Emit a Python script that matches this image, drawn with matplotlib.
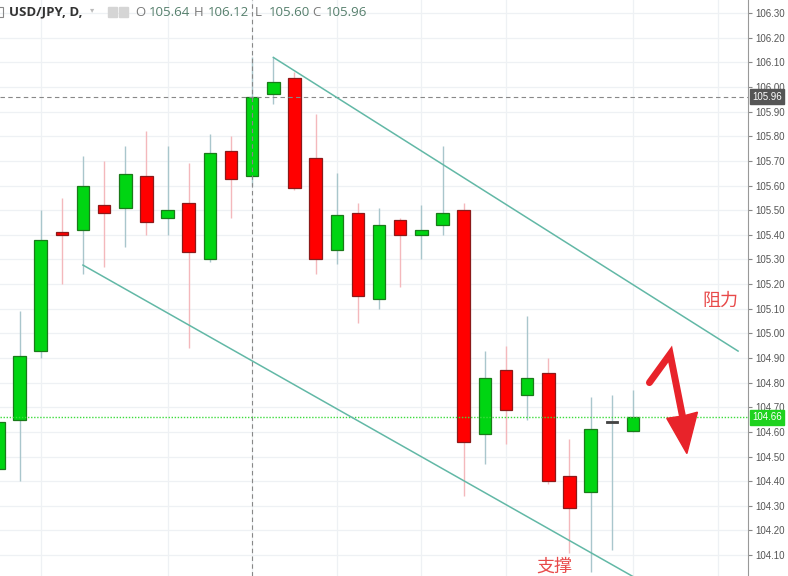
import numpy as np
import matplotlib.pyplot as plt
from matplotlib.patches import Polygon, Rectangle

plt.rcParams['font.family'] = ['Liberation Sans', 'DejaVu Sans']

# daily USD/JPY candles, index 0 = left edge of the picture
opens = [104.45, 104.65, 104.93, 105.41, 105.42, 105.52, 105.51, 105.64, 105.47, 105.53,
         105.30, 105.74, 105.64, 105.97, 106.035, 105.71, 105.34, 105.49, 105.14, 105.46,
         105.40, 105.44, 105.50, 104.59, 104.85, 104.75, 104.84, 104.42, 104.355, 104.64,
         104.605]
highs = [104.72, 105.09, 105.50, 105.55, 105.72, 105.70, 105.76, 105.82, 105.76, 105.69,
         105.81, 105.80, 106.12, 106.12, 106.06, 105.89, 105.65, 105.53, 105.51, 105.47,
         105.52, 105.76, 105.53, 104.93, 104.95, 105.07, 104.90, 104.57, 104.74, 104.75,
         104.77]
lows = [104.40, 104.40, 104.90, 105.20, 105.24, 105.27, 105.35, 105.40, 105.40, 104.94,
        105.29, 105.47, 105.60, 105.93, 105.58, 105.24, 105.28, 105.04, 105.10, 105.19,
        105.30, 105.40, 104.34, 104.47, 104.55, 104.65, 104.39, 104.11, 104.03, 104.12,
        104.60]
closes = [104.64, 104.91, 105.38, 105.40, 105.60, 105.49, 105.645, 105.45, 105.50, 105.33,
          105.73, 105.625, 105.96, 106.02, 105.59, 105.30, 105.48, 105.15, 105.44, 105.40,
          105.42, 105.49, 104.56, 104.82, 104.69, 104.82, 104.40, 104.29, 104.61, 104.64,
          104.66]

price_ticks = np.round(np.arange(104.10, 106.31, 0.10), 2)
vgrid_days = [2, 8, 12, 16, 20, 24, 30, 34]

cross_day = 12
cross_price = 105.96
last_price = 104.66

# drawn channel lines (day, price)
upper_line = [(13.0, 106.12), (34.97, 104.928)]
lower_line = [(4.0, 105.277), (31.5, 103.94)]

# hand drawn arrow (day, price)
arrow_path = [(30.78, 104.80), (31.76, 104.916), (32.42, 104.63)]
arrow_head = [(31.60, 104.655), (32.40, 104.665), (33.05, 104.68), (32.55, 104.512)]

fig = plt.figure(figsize=(7.88, 5.76), dpi=100)
ax = fig.add_axes([0, 0, 748 / 788, 1])
ax.set_xlim(0.078, 35.44)
ax.set_ylim(104.015, 106.353)

ax.set_yticks(price_ticks)
ax.set_yticklabels([f"{p:.2f}" for p in price_ticks])
ax.yaxis.tick_right()
ax.tick_params(axis='y', direction='out', length=3, width=0.8, color='#888888',
               labelsize=7, labelcolor='#555555', pad=2)
ax.set_xticks([])
for s in ['top', 'left', 'bottom']:
    ax.spines[s].set_visible(False)
ax.spines['right'].set_color('#999999')

for p in price_ticks:
    ax.axhline(p, color='#eef1f4', lw=0.9, zorder=0)
for d in vgrid_days:
    ax.axvline(d, color='#eef1f4', lw=0.9, zorder=0)

up_body, up_edge, up_wick = '#00d512', '#1a7a1a', '#a9c6cc'
dn_body, dn_edge, dn_wick = '#ff0000', '#8b1a1a', '#f4b8bc'
w = 0.59
for i, (o, h, l, c) in enumerate(zip(opens, highs, lows, closes)):
    if abs(c - o) < 0.005:
        body, edge, wick = '#444444', '#444444', up_wick
        if i == 3:
            body, edge, wick = '#9b2020', '#9b2020', dn_wick
        ax.vlines(i, l, h, color=wick, lw=1, zorder=2)
        ax.bar(i, 0.008, bottom=o - 0.004, width=w, color=body, edgecolor=edge, lw=0.6, zorder=3)
        continue
    if c > o:
        body, edge, wick = up_body, up_edge, up_wick
    else:
        body, edge, wick = dn_body, dn_edge, dn_wick
    ax.vlines(i, l, h, color=wick, lw=1, zorder=2)
    ax.bar(i, abs(c - o), bottom=min(o, c), width=w, color=body, edgecolor=edge,
           lw=0.9, zorder=3)

# crosshair and last price
ax.axvline(cross_day, color='#888888', lw=0.8, ls=(0, (4, 3)), zorder=4)
ax.axhline(cross_price, color='#888888', lw=0.8, ls=(0, (4, 3)), zorder=4)
ax.axhline(last_price, color='#3ddc3d', lw=1.0, ls=(0, (1, 1.2)), zorder=4)

for line in (upper_line, lower_line):
    xs, ys = zip(*line)
    ax.plot(xs, ys, color='#62b8a6', lw=1.1, zorder=5)

# price labels on the axis
for val, bg in ((cross_price, '#555555'), (last_price, '#1ed21e')):
    ax.annotate(f"{val:.2f}", xy=(1.0, val), xycoords=('axes fraction', 'data'),
                xytext=(3, 0), textcoords='offset points', ha='left', va='center',
                fontsize=7, color='white', annotation_clip=False, zorder=10,
                bbox=dict(boxstyle='square,pad=0.25', fc=bg, ec=bg))

# red arrow
ax_x, ax_y = zip(*arrow_path)
ax.plot(ax_x, ax_y, color='#e8232a', lw=5, solid_capstyle='round',
        solid_joinstyle='miter', zorder=6)
ax.add_patch(Polygon(arrow_head, closed=True, color='#e8232a', zorder=6))

cjk = ['Noto Sans CJK SC', 'DejaVu Sans']
ax.text(34.12, 105.131, '阻力', color='#e84a4a', fontsize=13, family=cjk,
        ha='center', va='center', zorder=7)
ax.text(26.28, 104.053, '支撑', color='#e84a4a', fontsize=13, family=cjk,
        ha='center', va='center', zorder=7)

# header
H = 576.0
hfont = ['Open Sans', 'DejaVu Sans']
fig.patches.append(Rectangle((-4 / 788, 1 - 17 / H), 7 / 788, 10 / H, transform=fig.transFigure,
                             fill=False, ec='#888888', lw=0.8))
fig.text(9 / 788, 1 - 12 / H, 'USD/JPY, D,', fontsize=9.5, fontweight='bold',
         color='#333333', va='center', family=hfont)
fig.text(90 / 788, 1 - 11 / H, '▾', fontsize=6, color='#bbbbbb', va='center')
for x0 in (108, 119):
    fig.patches.append(Rectangle((x0 / 788, 1 - 17 / H), 9 / 788, 10 / H,
                                 transform=fig.transFigure, fc='#d5d5d5', ec='#d5d5d5'))
header = [('O', '105.64', 135), ('H', '106.12', 194), ('L', '105.60', 255), ('C', '105.96', 312)]
for letter, val, x0 in header:
    fig.text(x0 / 788, 1 - 12 / H, letter, fontsize=9.5, color='#7a7a7a', va='center',
             family=hfont)
    fig.text((x0 + 14) / 788, 1 - 12 / H, val, fontsize=9.5, color='#557f6c', va='center',
             family=hfont)

fig.savefig('out.png', dpi=100)
